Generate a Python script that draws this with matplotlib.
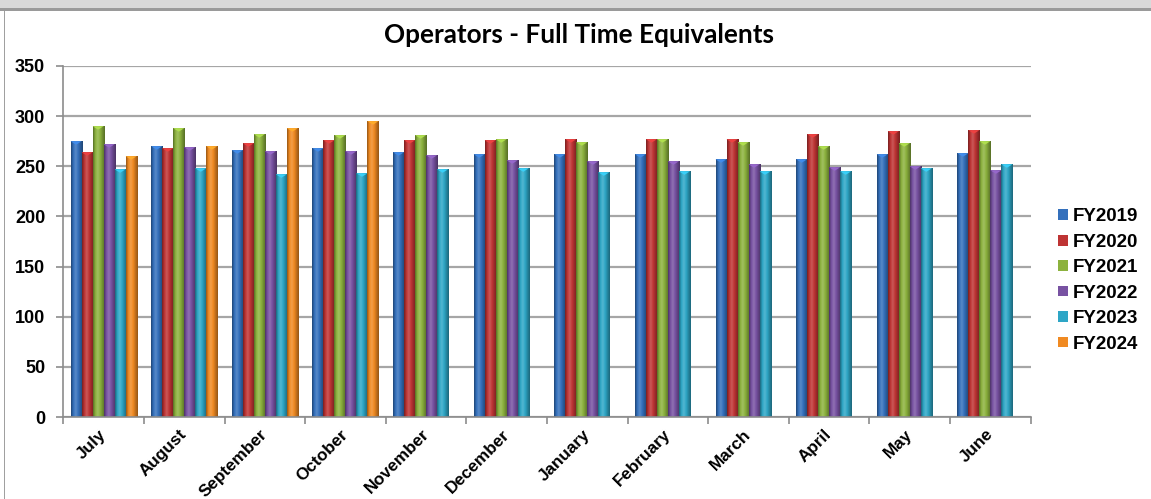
import numpy as np
import matplotlib
matplotlib.use("Agg")
import matplotlib.pyplot as plt
from matplotlib.colors import LinearSegmentedColormap, to_rgb
from matplotlib.patches import Rectangle

months = ["July", "August", "September", "October", "November", "December",
          "January", "February", "March", "April", "May", "June"]
years = ["FY2019", "FY2020", "FY2021", "FY2022", "FY2023", "FY2024"]

fy2019 = [275, 270, 266, 268, 264, 262, 262, 262, 257, 257, 262, 263]
fy2020 = [264, 268, 273, 276, 276, 276, 277, 277, 277, 282, 285, 286]
fy2021 = [290, 288, 282, 281, 281, 277, 274, 277, 274, 270, 273, 275]
fy2022 = [272, 269, 265, 265, 261, 256, 255, 255, 252, 249, 250, 246]
fy2023 = [247, 248, 242, 243, 247, 248, 244, 245, 245, 245, 248, 252]
fy2024 = [260, 270, 288, 295]

series = [fy2019, fy2020, fy2021, fy2022, fy2023, fy2024]
colors = ["#3470BC", "#BE3434", "#8CB23E", "#7852A2", "#2EA6C6", "#F08A22"]

W, H = 1151, 499
fig = plt.figure(figsize=(W / 100, H / 100), dpi=100)

# outer frame bits from the screenshot
fig.patches.append(Rectangle((0, 1 - 8.5 / H), 1, 8.5 / H, transform=fig.transFigure,
                             facecolor="#d9d9d9", edgecolor="none"))
fig.patches.append(Rectangle((0, 1 - 10.5 / H), 1, 2 / H, transform=fig.transFigure,
                             facecolor="#9a9a9a", edgecolor="none"))
fig.patches.append(Rectangle((3.8 / W, 0), 1.3 / W, 1 - 10.5 / H, transform=fig.transFigure,
                             facecolor="#a0a0a0", edgecolor="none"))

ax = fig.add_axes([63.3 / W, 82 / H, 967.4 / W, 351 / H])

x = np.arange(len(months))
bw = 0.1365


def shade(c):
    r = np.array(to_rgb(c))
    dark = r * 0.62
    light = np.clip(r + (1 - r) * 0.18, 0, 1)
    return LinearSegmentedColormap.from_list("s", [dark, r, light, r, r * 0.8, dark])


grad = np.linspace(0, 1, 64).reshape(1, -1)
for k, vals in enumerate(series):
    xs = x[:len(vals)] + (k - 2.5) * bw
    bars = ax.bar(xs, vals, bw, color=colors[k], label=years[k], zorder=2,
                  linewidth=0)
    cm = shade(colors[k])
    for b in bars:
        bx, bh = b.get_x(), b.get_height()
        im = ax.imshow(grad, extent=[bx, bx + bw, 0, bh], aspect="auto",
                       cmap=cm, zorder=2.5, interpolation="bilinear")
        im.set_clip_path(b)
        # small lighter cap at the top of each bar
        ax.fill([bx, bx + bw, bx + bw / 2], [bh, bh, bh - 3.5],
                color=np.clip(np.array(to_rgb(colors[k])) * 1.25, 0, 1),
                zorder=2.6, linewidth=0)

ax.set_xlim(-0.5, len(months) - 0.5)
ax.set_ylim(0, 350)
ax.set_yticks(range(0, 351, 50))
ax.set_xticks(np.arange(len(months) + 1) - 0.5, minor=True)
# label anchors sit a little right of the group centre, as in the original
ax.set_xticks(x + 0.07)
ax.set_xticklabels(months, rotation=45, ha="right", va="top", fontweight="bold",
                   fontsize=12.3, family="Liberation Sans")
ax.tick_params(axis="x", which="major", length=0, pad=7)
ax.tick_params(axis="x", which="minor", length=5, color="#8c8c8c", width=1.2)
ax.tick_params(axis="y", length=5, color="#8c8c8c", width=1.2, pad=8)
for lab in ax.get_yticklabels():
    lab.set_fontweight("bold")
    lab.set_fontsize(13)
    lab.set_family("Liberation Sans")

ax.grid(axis="y", color="#a6a6a6", linewidth=1.6, zorder=0)
ax.set_axisbelow(True)
for s in ["top", "right"]:
    ax.spines[s].set_visible(False)
ax.spines["left"].set_color("#8c8c8c")
ax.spines["bottom"].set_color("#8c8c8c")
ax.spines["left"].set_linewidth(1.2)
ax.spines["bottom"].set_linewidth(1.2)

fig.text(0.503, 1 - 35 / H, "Operators - Full Time Equivalents", ha="center", va="center",
         fontsize=18.8, fontweight="bold", family="Lato")

fig.legend(loc="center left", bbox_to_anchor=(1049 / W, 1 - 280.5 / H), frameon=False,
           prop={"family": "Liberation Sans", "weight": "bold", "size": 13.5},
           handlelength=0.5, handleheight=0.5, handletextpad=0.25, labelspacing=0.45,
           borderpad=0)

plt.savefig("out.png", dpi=100)
